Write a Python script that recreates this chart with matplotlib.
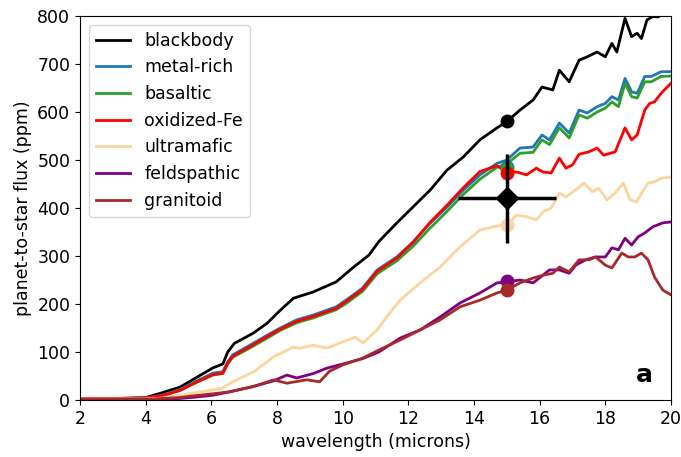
import numpy as np
import matplotlib
matplotlib.use("Agg")
import matplotlib.pyplot as plt

# ---------------- DATA ----------------
wl_bb = [2, 3, 4, 4.5, 5.05, 5.5, 6.05, 6.35, 6.5, 6.7, 7.27, 7.7, 8.1, 8.5, 9.1, 9.8,
         10.3, 10.8, 11.1, 11.65, 12.14, 12.66, 13.18, 13.67, 14.18, 14.7, 15.0, 15.4,
         15.8, 16.07, 16.4, 16.6, 16.9, 17.2, 17.45, 17.75, 18.0, 18.2, 18.35, 18.6,
         18.8, 18.97, 19.1, 19.27, 19.45, 19.6, 20]
f_bb = [3, 3, 5, 15, 27, 45, 67, 75, 100, 118, 139, 160, 187, 212, 225, 246,
        275, 302, 330, 369, 402, 437, 479, 506, 542, 567, 580, 604,
        625, 652, 646, 687, 663, 708, 715, 725, 715, 743, 725, 795,
        757, 764, 753, 792, 799, 798, 812]

wl_met = [2, 3, 4, 4.5, 5.05, 5.5, 6.05, 6.35, 6.5, 6.65, 7.27, 7.7, 8.1, 8.6, 9.1, 9.8,
          10.1, 10.6, 11.05, 11.65, 12.14, 12.66, 13.18, 13.67, 14.18, 14.7, 15.0, 15.4,
          15.8, 16.07, 16.3, 16.6, 16.9, 17.2, 17.45, 17.75, 18.0, 18.2, 18.4, 18.6,
          18.8, 18.97, 19.2, 19.4, 19.7, 20]
f_met = [3, 3, 4, 10, 22, 38, 56, 59, 80, 94, 118, 135, 150, 167, 177, 194,
         208, 233, 271, 298, 329, 368, 402, 437, 469, 493, 500, 525,
         527, 552, 542, 577, 556, 604, 598, 611, 618, 632, 625, 670,
         642, 639, 674, 674, 684, 684]
f_bas = [3, 3, 4, 9, 20, 35, 52, 55, 75, 89, 112, 129, 145, 161, 171, 188,
         201, 226, 263, 290, 320, 358, 393, 428, 460, 485, 492, 514,
         516, 542, 532, 567, 546, 594, 587, 600, 608, 621, 611, 660,
         632, 629, 663, 663, 674, 675]

wl_ox = [2, 3, 4, 4.5, 5.05, 5.5, 6.05, 6.35, 6.5, 6.65, 7.27, 7.7, 8.1, 8.6, 9.1, 9.8,
         10.1, 10.6, 11.05, 11.65, 12.14, 12.66, 13.18, 13.67, 14.18, 14.7, 15.0, 15.3,
         15.6, 15.9, 16.1, 16.35, 16.6, 16.8, 17.0, 17.2, 17.5, 17.75, 17.95, 18.15,
         18.3, 18.6, 18.8, 18.97, 19.2, 19.35, 19.5, 19.7, 20]
f_ox = [3, 3, 4, 9, 20, 36, 53, 56, 77, 91, 115, 132, 148, 164, 174, 191,
        205, 230, 268, 296, 328, 370, 406, 442, 476, 488, 474, 475,
        469, 483, 475, 473, 504, 483, 490, 512, 517, 525, 510, 514,
        517, 567, 542, 552, 604, 618, 621, 639, 660]

wl_um = [2, 3, 4, 4.5, 5.05, 5.5, 6.05, 6.35, 6.65, 7.27, 7.9, 8.5, 8.7, 9.1, 9.52, 10.0,
         10.38, 10.62, 11.05, 11.45, 11.75, 12.36, 12.97, 13.57, 14.18, 14.58, 15.0, 15.3,
         15.6, 15.9, 16.1, 16.35, 16.6, 16.8, 17.1, 17.35, 17.6, 17.8, 18.05, 18.3,
         18.55, 18.75, 18.95, 19.1, 19.3, 19.5, 19.7, 20]
f_um = [2, 2, 2, 4, 10, 15, 21, 25, 38, 58, 90, 110, 108, 114, 108, 121,
        131, 119, 146, 183, 208, 244, 277, 319, 354, 361, 365, 385,
        382, 375, 392, 400, 431, 423, 438, 452, 434, 441, 417, 431,
        452, 417, 413, 431, 452, 455, 462, 465]

wl_fel = [2, 3, 4, 5, 5.5, 6.05, 6.55, 7.27, 7.9, 8.3, 8.6, 9.1, 9.5, 10.0, 10.6, 11.1,
          11.75, 12.36, 12.97, 13.57, 14.18, 14.7, 15.0, 15.4, 15.8, 16.3, 16.6, 16.9,
          17.1, 17.4, 17.7, 18.0, 18.2, 18.4, 18.6, 18.8, 19.0, 19.2, 19.45, 19.75, 20]
f_fel = [1, 1, 1, 3, 6, 10, 17, 28, 40, 52, 46, 55, 66, 75, 86, 100,
         129, 146, 173, 202, 223, 244, 246, 250, 244, 271, 271, 264,
         281, 292, 298, 298, 317, 313, 337, 323, 340, 348, 361, 369, 371]

wl_gra = [2, 3, 4, 5, 5.5, 6.05, 6.55, 7.27, 7.9, 8.3, 8.9, 9.3, 9.6, 10.0, 10.6, 11.1,
          11.75, 12.36, 12.97, 13.57, 14.18, 14.7, 15.0, 15.4, 15.8, 16.1, 16.4, 16.6,
          16.9, 17.2, 17.5, 17.7, 18.0, 18.2, 18.5, 18.7, 18.9, 19.1, 19.3, 19.5, 19.75, 20]
f_gra = [1, 1, 1, 5, 9, 13, 17, 28, 42, 35, 42, 38, 60, 73, 87, 104,
         125, 146, 167, 194, 208, 223, 229, 244, 254, 260, 264, 277,
         267, 292, 292, 298, 281, 275, 306, 298, 298, 306, 292, 256, 229, 219]

# model values at 15 micron
dot_vals = [581, 485, 482, 473, 365, 248, 229]

# measurement
obs_wl, obs_f = 15.0, 420
obs_xerr, obs_yerr = 1.5, 93

names = ["blackbody", "metal-rich", "basaltic", "oxidized-Fe", "ultramafic",
         "feldspathic", "granitoid"]
colors = ["black", "#1f77b4", "#2ca02c", "red", "#fcd49c", "purple", "brown"]

series = [(wl_bb, f_bb), (wl_met, f_met), (wl_met, f_bas), (wl_ox, f_ox),
          (wl_um, f_um), (wl_fel, f_fel), (wl_gra, f_gra)]

# ---------------- PLOT ----------------
plt.rcParams["font.size"] = 12.5
fig = plt.figure(figsize=(6.81, 4.57), dpi=100)
ax = fig.add_axes([0.1175, 0.1247, 0.8678, 0.8403])

for (x, y), c, n in zip(series, colors, names):
    ax.plot(x, y, color=c, lw=2, label=n)

for v, c in zip(dot_vals, colors):
    ax.plot(15.0, v, "o", color=c, ms=9)

ax.errorbar(obs_wl, obs_f, xerr=obs_xerr, yerr=obs_yerr, fmt="D", color="black",
            ms=11, elinewidth=2.5, capsize=0, zorder=10)

ax.text(0.97, 0.035, "a", transform=ax.transAxes, fontsize=18, fontweight="bold",
        ha="right", va="bottom")

ax.set_xlim(2, 20)
ax.set_ylim(0, 800)
ax.set_xticks(np.arange(2, 21, 2))
ax.set_xlabel("wavelength (microns)")
ax.set_ylabel("planet-to-star flux (ppm)")
ax.legend(loc="upper left")

fig.savefig("out.png", dpi=100)
